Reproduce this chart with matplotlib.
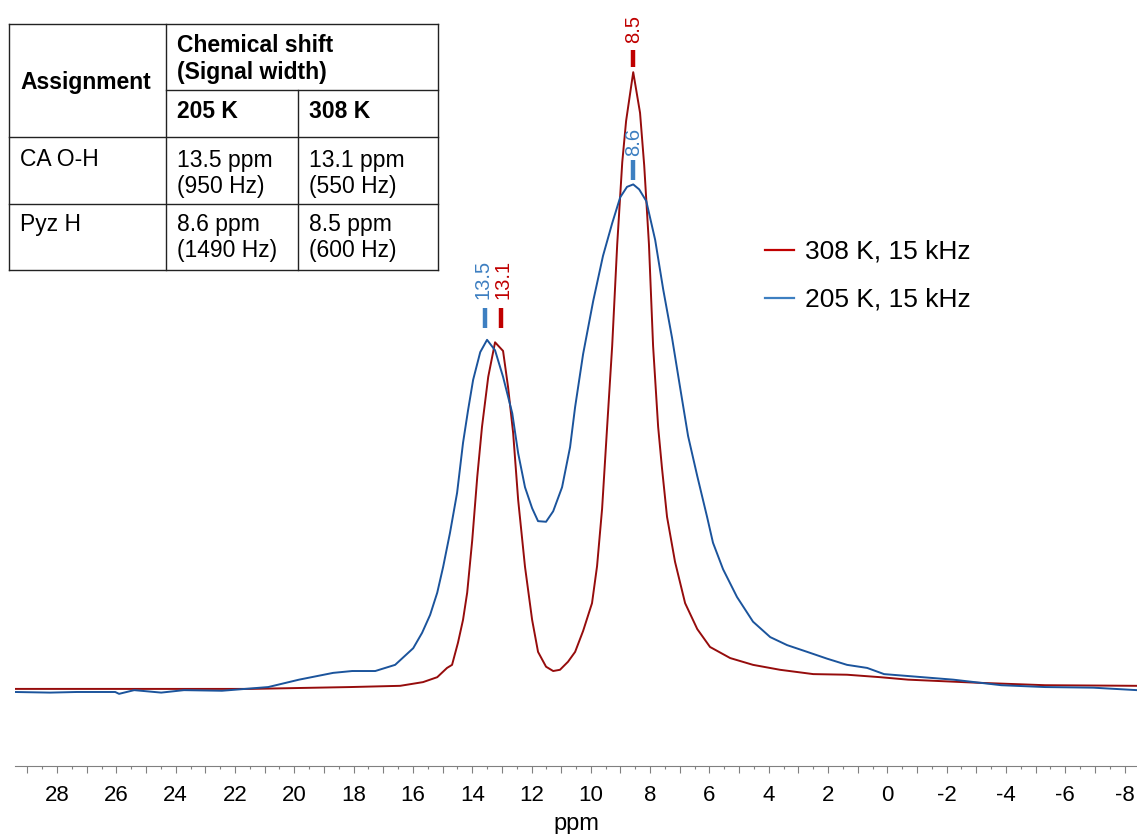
import numpy as np
import matplotlib
matplotlib.use("Agg")
import matplotlib.pyplot as plt
from matplotlib.lines import Line2D
from matplotlib.ticker import MultipleLocator, FuncFormatter

plt.rcParams['font.family'] = ['Liberation Sans', 'DejaVu Sans']
plt.rcParams['axes.unicode_minus'] = False

# spectra (ppm, relative intensity, 308 K peak = 100)
ppm_205 = [29.42, 28.24, 27.33, 26.04, 25.91, 25.40, 24.49, 23.72, 22.44, 20.88,
           19.84, 18.69, 18.05, 17.27, 16.60, 15.99, 15.69, 15.42, 15.18, 14.98,
           14.75, 14.51, 14.31, 14.14, 13.97, 13.73, 13.50, 13.23, 12.96, 12.65,
           12.45, 12.22, 11.98, 11.78, 11.51, 11.27, 10.97, 10.70, 10.53, 10.26,
           9.92, 9.59, 9.28, 9.01, 8.78, 8.57, 8.37, 8.13, 7.83, 7.56,
           7.26, 6.99, 6.72, 6.41, 6.08, 5.88, 5.54, 5.07, 4.53, 3.95,
           3.38, 2.70, 2.03, 1.36, 0.68, 0.11, -2.22, -3.84, -5.32, -6.94, -8.42]
int_205 = [-0.5, -0.6, -0.5, -0.5, -0.8, -0.2, -0.6, -0.2, -0.3, 0.3,
           1.5, 2.6, 2.9, 2.9, 3.9, 6.6, 9.1, 12.0, 15.6, 19.8,
           25.3, 31.8, 39.9, 45.2, 50.1, 54.6, 56.6, 54.9, 50.6, 44.7,
           38.2, 32.7, 29.3, 27.2, 27.1, 28.8, 32.7, 39.2, 45.7, 54.3,
           62.9, 70.2, 75.5, 79.7, 81.4, 81.8, 81.0, 79.1, 72.8, 64.8,
           56.9, 48.9, 41.0, 34.5, 27.9, 23.7, 19.4, 14.9, 10.9, 8.4,
           7.1, 6.0, 4.9, 3.9, 3.4, 2.4, 1.5, 0.6, 0.3, 0.2, -0.2]

ppm_308 = [29.42, 21.49, 18.12, 16.43, 15.66, 15.18, 14.85, 14.68, 14.48, 14.31,
           14.17, 14.00, 13.83, 13.67, 13.46, 13.23, 12.96, 12.79, 12.62, 12.45,
           12.22, 11.98, 11.78, 11.51, 11.27, 11.04, 10.77, 10.53, 10.26, 9.96,
           9.79, 9.62, 9.45, 9.28, 9.11, 8.94, 8.81, 8.57, 8.34, 8.20,
           8.04, 7.90, 7.73, 7.60, 7.43, 7.16, 6.82, 6.41, 5.98, 5.30,
           4.53, 3.62, 2.50, 1.36, 0.24, -0.70, -3.03, -5.32, -8.42]
int_308 = [0.0, 0.0, 0.3, 0.5, 1.1, 1.9, 3.4, 3.9, 7.5, 11.2,
           15.6, 24.1, 34.4, 42.5, 50.6, 56.2, 54.8, 48.9, 41.5, 30.6,
           19.8, 11.2, 6.0, 3.6, 2.9, 3.1, 4.4, 6.0, 9.4, 13.9,
           19.9, 29.2, 42.5, 55.6, 72.1, 85.4, 92.1, 100.0, 93.4, 84.9,
           72.1, 55.6, 42.5, 35.8, 27.9, 20.6, 13.9, 9.7, 6.8, 5.0,
           3.9, 3.1, 2.4, 2.3, 1.9, 1.5, 1.0, 0.6, 0.5]

# peak picks
pick_labels = ['13.5', '13.1', '8.5', '8.6']
pick_ppm = [13.57, 13.03, 8.57, 8.57]
pick_series = ['205', '308', '308', '205']

legend_labels = ['308 K, 15 kHz', '205 K, 15 kHz']

table_head = ['Assignment', 'Chemical shift', '(Signal width)', '205 K', '308 K']
table_rows = [['CA O-H', '13.5 ppm', '(950 Hz)', '13.1 ppm', '(550 Hz)'],
              ['Pyz H', '8.6 ppm', '(1490 Hz)', '8.5 ppm', '(600 Hz)']]

line_col = {'205': '#1b549c', '308': '#960c0c'}
mark_col = {'205': '#3d7fc1', '308': '#c00000'}

W, H = 1137, 834
fig = plt.figure(figsize=(W / 100, H / 100), dpi=100)
ax = fig.add_axes([15 / W, 1 - 766 / H, 1 - 15 / W, 766 / H])

ax.plot(ppm_308, int_308, color=line_col['308'], lw=1.4)
ax.plot(ppm_205, int_205, color=line_col['205'], lw=1.4)

ax.set_xlim(29.42, -8.42)
ax.set_ylim(-12.5, 111.7)

# dash (bottom, top) and label bottom, in intensity units; small x nudge for the crowded pair
dash_pos = [(58.5, 61.8), (58.5, 61.8), (100.8, 103.6), (82.5, 85.8)]
text_pos = [63.3, 63.3, 104.7, 86.4]
text_dx = [0.08, -0.08, 0, 0]
for lab, xp, s, (d0, d1), ty, dx in zip(pick_labels, pick_ppm, pick_series,
                                          dash_pos, text_pos, text_dx):
    ax.vlines(xp, d0, d1, color=mark_col[s], lw=3.2)
    ax.text(xp + dx, ty, lab, rotation=90, ha='center', va='bottom',
            color=mark_col[s], fontsize=14.5)

for sp in ['top', 'left', 'right']:
    ax.spines[sp].set_visible(False)
ax.spines['bottom'].set_color('#808080')
ax.set_yticks([])
ax.xaxis.set_major_locator(MultipleLocator(1))
ax.xaxis.set_minor_locator(MultipleLocator(0.5))
ax.xaxis.set_major_formatter(FuncFormatter(lambda v, p: f'{int(round(v))}' if round(v) % 2 == 0 else ''))
ax.tick_params(axis='x', which='major', length=5, width=0.8, color='#808080', labelsize=16, pad=9)
ax.tick_params(axis='x', which='minor', length=2.5, width=0.8, color='#808080')
ax.set_xlabel('ppm', fontsize=17, labelpad=5)

handles = [Line2D([], [], color=mark_col['308'], lw=1.6),
           Line2D([], [], color=mark_col['205'], lw=1.6)]
ax.legend(handles, legend_labels, loc='upper left', frameon=False,
          bbox_to_anchor=(765 / W, 1 - 240 / H), bbox_transform=fig.transFigure,
          fontsize=19, borderpad=0, borderaxespad=0, handlelength=1.1,
          handletextpad=0.4, labelspacing=0.9)


# table in the top-left corner, drawn in pixel coords
def fx(x):
    return x / W


def fy(y):
    return 1 - y / H


def hline(x0, x1, y):
    fig.add_artist(Line2D([fx(x0), fx(x1)], [fy(y), fy(y)], color='#222222', lw=1))


def vline(x, y0, y1):
    fig.add_artist(Line2D([fx(x), fx(x)], [fy(y0), fy(y1)], color='#222222', lw=1))


hline(9, 438, 24)
hline(166, 438, 90)
hline(9, 438, 137)
hline(9, 438, 204)
hline(9, 438, 270)
vline(9, 24, 270)
vline(166, 24, 270)
vline(298, 90, 270)
vline(438, 24, 270)

fs = 16.5
fig.text(fx(20), fy(82), table_head[0], fontsize=fs, weight='bold', va='center')
fig.text(fx(177), fy(45), table_head[1], fontsize=fs, weight='bold', va='center')
fig.text(fx(177), fy(72), table_head[2], fontsize=fs, weight='bold', va='center')
fig.text(fx(177), fy(112), table_head[3], fontsize=fs, weight='bold', va='center')
fig.text(fx(309), fy(112), table_head[4], fontsize=fs, weight='bold', va='center')

for row, y in zip(table_rows, [160, 224]):
    fig.text(fx(20), fy(y), row[0], fontsize=fs, va='center')
    fig.text(fx(177), fy(y), row[1], fontsize=fs, va='center')
    fig.text(fx(177), fy(y + 27), row[2], fontsize=fs, va='center')
    fig.text(fx(309), fy(y), row[3], fontsize=fs, va='center')
    fig.text(fx(309), fy(y + 27), row[4], fontsize=fs, va='center')

fig.savefig('out.png', dpi=100)
